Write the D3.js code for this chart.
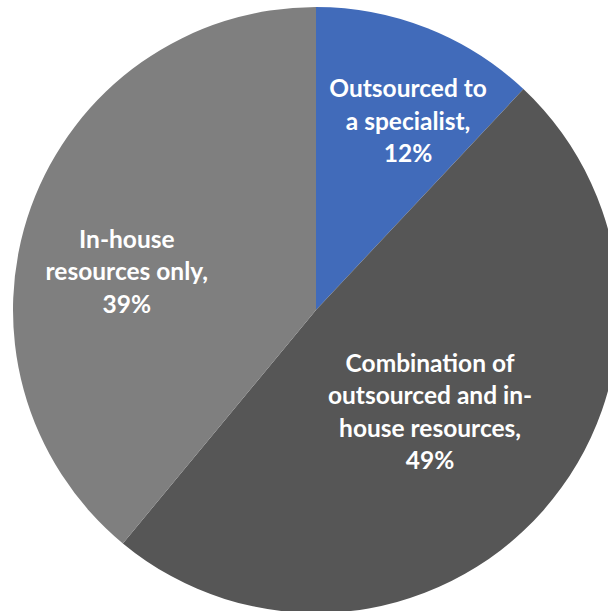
<!DOCTYPE html>
<html>
<head>
  <meta charset="utf-8">
  <title>Resourcing pie</title>
  <script src="https://cdn.jsdelivr.net/npm/d3@7"></script>
  <style>
    body { margin: 0; background: #fff; }
    .lbl { font-family: Lato, "Open Sans", sans-serif; font-weight: bold; fill: #fff; }
  </style>
</head>
<body>
<svg width="608" height="611"></svg>
<script>
  // data
  const categories = ['Outsourced to a specialist', 'Combination of outsourced and in-house resources', 'In-house resources only'];
  const values = [12, 49, 39];
  const labelLines = [
    ['Outsourced to', 'a specialist,', '12%'],
    ['Combination of', 'outsourced and in-', 'house resources,', '49%'],
    ['In-house', 'resources only,', '39%']
  ];
  const colors = ['#416bba', '#565656', '#7f7f7f'];

  // layout of labels (radius, angle in degrees) - excel "best fit" look
  const labelPlace = [[210, 26], [153, 131.8], [193, 281.4]];

  const svg = d3.select('svg');
  const cx = 316, cy = 310, R = 303;
  const g = svg.append('g').attr('transform', `translate(${cx},${cy})`);

  const pie = d3.pie().sort(null).value(d => d);
  const arc = d3.arc().innerRadius(0).outerRadius(R);
  const arcs = pie(values);

  g.selectAll('path.slice').data(arcs)
    .enter().append('path')
      .attr('class', 'slice')
      .attr('d', arc)
      .attr('fill', (d, i) => colors[i])
    .append('title')
      .text((d, i) => categories[i] + ': ' + values[i] + '%');

  const lineH = 32.5;
  const lbl = g.selectAll('text.lbl').data(arcs)
    .enter().append('text')
      .attr('class', 'lbl')
      .attr('text-anchor', 'middle')
      .attr('font-size', 24.5)
      .attr('transform', (d, i) => {
        const [r, a] = labelPlace[i];
        const rad = a * Math.PI / 180;
        return `translate(${r * Math.sin(rad)},${-r * Math.cos(rad)})`;
      });

  lbl.each(function(d, i) {
    const lines = labelLines[i];
    const t = d3.select(this);
    lines.forEach((s, j) => {
      t.append('tspan')
        .attr('x', 0)
        .attr('y', (j - (lines.length - 1) / 2) * lineH)
        .attr('dy', '0.35em')
        .text(s);
    });
  });
</script>
</body>
</html>
